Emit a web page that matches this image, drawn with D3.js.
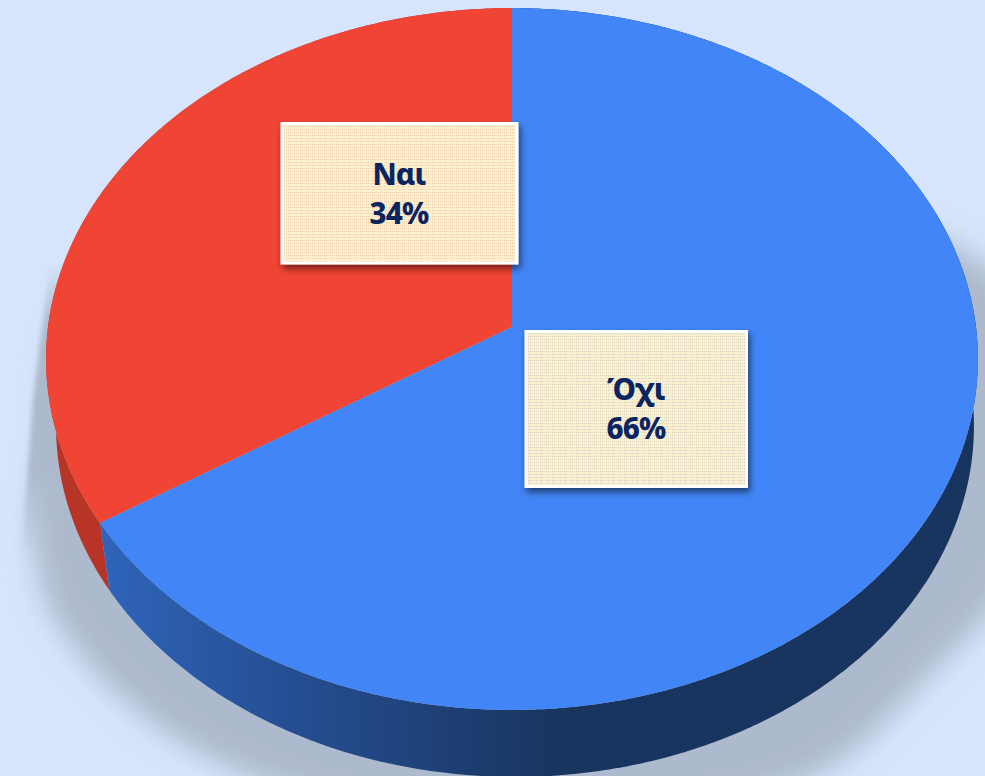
<!DOCTYPE html>
<html><head><meta charset="utf-8">
<style>html,body{margin:0;padding:0;background:#d6e5fb;overflow:hidden}svg{display:block}</style>
<script src="https://cdn.jsdelivr.net/npm/d3@7"></script></head>
<body><svg id="c" width="985" height="776"></svg>
<script>
const categories = ["Ναι", "Όχι"];
const values = [34, 66];
const percentLabels = ["34%", "66%"];
const topColors = ["#f04535", "#4285f6"];
const dotColors = ["#efc5a0", "#cdccc2"];

const W = 985, H = 776;
const svg = d3.select("#c");
const defs = svg.append("defs");

// dotted paper pattern of the label boxes, one tint per box
dotColors.forEach((c,i) => {
  const pat = defs.append("pattern").attr("id","paper"+i).attr("patternUnits","userSpaceOnUse")
    .attr("width",6).attr("height",3);
  pat.append("rect").attr("width",6).attr("height",3).attr("fill","#fbf0cd");
  pat.append("rect").attr("x",0).attr("width",1).attr("height",1).attr("fill",c);
  pat.append("rect").attr("x",2).attr("width",1).attr("height",1).attr("fill",c);
  pat.append("rect").attr("x",4).attr("width",1).attr("height",1).attr("fill",c).attr("opacity",0.4);
});

const sideBlue = defs.append("linearGradient").attr("id","sideBlue")
  .attr("gradientUnits","userSpaceOnUse").attr("x1",105).attr("x2",560).attr("y1",0).attr("y2",0);
sideBlue.append("stop").attr("offset",0).attr("stop-color","#2f64b9");
sideBlue.append("stop").attr("offset",0.45).attr("stop-color","#244c8e");
sideBlue.append("stop").attr("offset",1).attr("stop-color","#18355f");

const wedgeFade = defs.append("linearGradient").attr("id","wedgeFade")
  .attr("gradientUnits","userSpaceOnUse").attr("x1",0).attr("x2",0).attr("y1",262).attr("y2",560);
[[0,0],[0.22,1],[0.7,1],[1,0]].forEach(([o,a]) =>
  wedgeFade.append("stop").attr("offset",o).attr("stop-color","#adb9cc").attr("stop-opacity",a));

const blurF = (id,s) => defs.append("filter").attr("id",id).attr("filterUnits","userSpaceOnUse")
  .attr("x",-100).attr("y",-100).attr("width",W+200).attr("height",H+200)
  .append("feGaussianBlur").attr("stdDeviation",s);
blurF("blurBig",14); blurF("blurSmall",2.5);
const bs = defs.append("filter").attr("id","boxShadow").attr("x","-10%").attr("y","-10%").attr("width","125%").attr("height","130%");
bs.append("feDropShadow").attr("dx",2).attr("dy",4).attr("stdDeviation",3.5).attr("flood-color","#000").attr("flood-opacity",0.55);

// ground shadow outline
const shadowOutline = [[70,320],[48,440],[34,530],[50,610],[130,705],[230,768],[400,815],[600,820],[815,775],[925,680],[1020,560],[1020,300],[800,200],[300,200]];
svg.append("path").attr("d", d3.line().curve(d3.curveCatmullRomClosed.alpha(0.5))(shadowOutline))
  .attr("fill","#adb9cc").attr("filter","url(#blurBig)");
const shadowWedge = [[50,265],[33,400],[22,555],[90,555],[90,265]];
svg.append("path").attr("d", d3.line()(shadowWedge)+"Z")
  .attr("fill","url(#wedgeFade)").attr("filter","url(#blurSmall)");
// thin sliver at the right of the disc
svg.append("path").attr("d", d3.line()([[972,290],[985,300],[985,480],[960,480]])+"Z")
  .attr("fill","#adb9cc").attr("filter","url(#blurSmall)");

// projective disc: a unit circle seen in perspective, apex off the ellipse centre
const persp = 0.0912, ax = 464, by = 348, apex = [512, 327];
const project = (angle) => {
  const u = Math.sin(angle), v = -Math.cos(angle), w = 1 - persp*v;
  return [apex[0] + ax*u/w, apex[1] + by*v/w];
};
const lower = ([x,y]) => [515 + (x-512)*459/466, y + 67];

const total = d3.sum(values);
const start = -2*Math.PI*values[0]/total;
const pie = d3.pie().sort(null).value(d => d).startAngle(start).endAngle(start + 2*Math.PI);
const arcs = pie(values);
const arcPts = d => {
  const n = Math.ceil((d.endAngle-d.startAngle)*120);
  return d3.range(n+1).map(i => project(d.startAngle + (d.endAngle-d.startAngle)*i/n));
};
const line = d3.line();

// side walls
svg.append("g").selectAll("path").data(arcs).join("path")
  .attr("d", d => { const p = arcPts(d); return line(p.concat(p.map(lower).reverse()))+"Z"; })
  .attr("fill", (d,i) => i===0 ? "#b83426" : "url(#sideBlue)");

// top surface
svg.append("g").selectAll("path").data(arcs).join("path")
  .attr("d", d => line([apex].concat(arcPts(d)))+"Z")
  .attr("fill", (d,i) => topColors[i]);

// label boxes
const boxes = [{x:280.5,y:122,w:238,h:142.5,cx:399,y1:185,y2:224},{x:524.5,y:330,w:223.5,h:158,cx:636,y1:400,y2:439}];
const g = svg.append("g").selectAll("g").data(categories).join("g");
g.append("rect")
  .attr("x",(d,i)=>boxes[i].x).attr("y",(d,i)=>boxes[i].y)
  .attr("width",(d,i)=>boxes[i].w).attr("height",(d,i)=>boxes[i].h)
  .attr("fill","#fff").attr("filter","url(#boxShadow)");
g.append("rect")
  .attr("x",(d,i)=>boxes[i].x+3).attr("y",(d,i)=>boxes[i].y+3)
  .attr("width",(d,i)=>boxes[i].w-6).attr("height",(d,i)=>boxes[i].h-6)
  .attr("fill",(d,i)=>`url(#paper${i})`);
const txt = {"font-family":"'Noto Sans',sans-serif","font-weight":800,"font-size":"29.5px","text-anchor":"middle","fill":"#0b2561","letter-spacing":"-0.8px"};
const t1 = g.append("text").attr("x",(d,i)=>boxes[i].cx).attr("y",(d,i)=>boxes[i].y1).text(d=>d);
const t2 = g.append("text").attr("x",(d,i)=>boxes[i].cx).attr("y",(d,i)=>boxes[i].y2).text((d,i)=>percentLabels[i]);
for (const t of [t1,t2]) for (const k in txt) t.attr(k, txt[k]);
</script></body></html>
